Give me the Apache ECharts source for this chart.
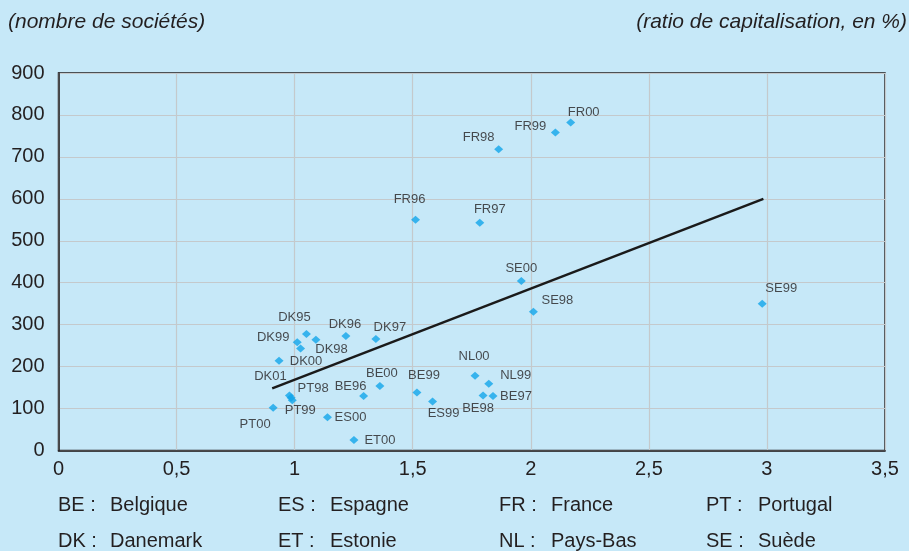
<!DOCTYPE html>
<html>
<head>
<meta charset="utf-8">
<script src="https://cdn.jsdelivr.net/npm/echarts@6/dist/echarts.min.js"></script>
<style>
html, body { margin: 0; padding: 0; background: #c6e8f8; }
#chart { width: 909px; height: 551px; }
</style>
</head>
<body>
<div id="chart"></div>
<script>
// points : code pays + année, ratio de capitalisation (%), nombre de sociétés
const names = ['FR96','FR97','FR98','FR99','FR00','SE98','SE99','SE00',
  'DK95','DK96','DK97','DK98','DK99','DK00','DK01','',
  'PT98','PT99','PT00','ES00','ES99','ET00',
  'BE96','BE97','BE98','BE99','BE00','NL99','NL00'];
const ratio = [1.512,1.784,1.864,2.104,2.169,2.011,2.980,1.960,
  1.050,1.217,1.344,1.025,1.011,0.934,0.978,1.090,
  0.985,0.990,0.909,1.139,1.584,1.251,
  1.292,1.840,1.798,1.518,1.361,1.822,1.764];
const companies = [550,543,718,758,782,331,350,404,
  278,273,266,243,258,214,131,264,
  126,120,102,79,117,25,
  130,130,131,138,154,159,178];

// droite de tendance (début / fin)
const trendX = [0.905, 2.985];
const trendY = [148, 600];

const xTicks = ['0','0,5','1','1,5','2','2,5','3','3,5'];

// légende des pays
const codesRow1 = ['BE','ES','FR','PT'];
const namesRow1 = ['Belgique','Espagne','France','Portugal'];
const codesRow2 = ['DK','ET','NL','SE'];
const namesRow2 = ['Danemark','Estonie','Pays-Bas','Suède'];

// décalage des étiquettes par rapport au point (px)
const labelOffsets = {
  FR96:[-6,-20], FR97:[10,-13], FR98:[-20,-12], FR99:[-25,-6], FR00:[13,-10],
  SE98:[24,-11], SE99:[19,-15], SE00:[0,-13],
  DK95:[-12,-16], DK96:[-1,-12], DK97:[14,-12], DK98:[31,1], DK99:[-24,-5],
  DK00:[27,1], DK01:[-19,-19],
  PT98:[22,-9], PT99:[8,10], PT00:[-18,17],
  ES00:[23,0], ES99:[11,12], ET00:[26,0],
  BE96:[-13,-10], BE97:[23,0], BE98:[-5,13], BE99:[7,-17], BE00:[2,-12],
  NL99:[27,-8], NL00:[-1,-19]
};

const FONT = 'Liberation Sans, Arial, sans-serif';
const TXT = '#231f20';

let chart = echarts.init(document.getElementById('chart'));

let points = [];
for (let i = 0; i < names.length; i++) {
  let off = labelOffsets[names[i]] || [0, 0];
  points.push({
    name: names[i],
    value: [ratio[i], companies[i]],
    label: { show: names[i] !== '', offset: off }
  });
}

let trend = [];
for (let i = 0; i < trendX.length; i++) trend.push([trendX[i], trendY[i]]);

let graphics = [
  { type: 'text', left: 8, top: 12,
    style: { text: '(nombre de sociétés)', font: 'italic 21px ' + FONT, fill: TXT } },
  { type: 'text', right: 2, top: 12,
    style: { text: '(ratio de capitalisation, en %)', font: 'italic 21px ' + FONT, fill: TXT } }
];
const colX = [58, 278, 499, 706];
function addLegendRow(codes, labels, y) {
  for (let i = 0; i < codes.length; i++) {
    graphics.push({ type: 'text', x: colX[i], y: y,
      style: { text: codes[i] + ' :', font: '20px ' + FONT, fill: TXT, verticalAlign: 'middle' } });
    graphics.push({ type: 'text', x: colX[i] + 52, y: y,
      style: { text: labels[i], font: '20px ' + FONT, fill: TXT, verticalAlign: 'middle' } });
  }
}
addLegendRow(codesRow1, namesRow1, 505);
addLegendRow(codesRow2, namesRow2, 541);

let option = {
  backgroundColor: '#c6e8f8',
  animation: false,
  grid: {
    left: 58.5, right: 24, top: 73, bottom: 100.5,
    show: true, borderColor: TXT, borderWidth: 1.5
  },
  xAxis: {
    type: 'value', min: 0, max: 3.5, interval: 0.5,
    axisLine: { show: true, lineStyle: { color: TXT, width: 1.5 } },
    axisTick: { show: false },
    axisLabel: {
      color: TXT, fontSize: 20, fontFamily: FONT, margin: 9,
      formatter: function (v) { return xTicks[Math.round(v * 2)]; }
    },
    splitLine: { show: true, lineStyle: { color: '#c4c9cc', width: 1.2 } }
  },
  yAxis: {
    type: 'value', min: 0, max: 900, interval: 100,
    axisLine: { show: true, lineStyle: { color: TXT, width: 1.5 } },
    axisTick: { show: false },
    axisLabel: { color: TXT, fontSize: 20, fontFamily: FONT, margin: 14 },
    splitLine: { show: true, lineStyle: { color: '#c4c9cc', width: 1.2 } }
  },
  graphic: graphics,
  series: [
    {
      type: 'line',
      data: trend,
      showSymbol: false,
      lineStyle: { color: '#1a1a1a', width: 2.5 },
      z: 3
    },
    {
      type: 'scatter',
      data: points,
      symbol: 'diamond',
      symbolSize: [9, 8],
      itemStyle: { color: '#12a5ea' },
      label: {
        show: true, position: 'inside', formatter: '{b}',
        color: TXT, fontSize: 13, fontFamily: FONT
      },
      z: 4
    }
  ]
};
chart.setOption(option);
</script>
</body>
</html>
